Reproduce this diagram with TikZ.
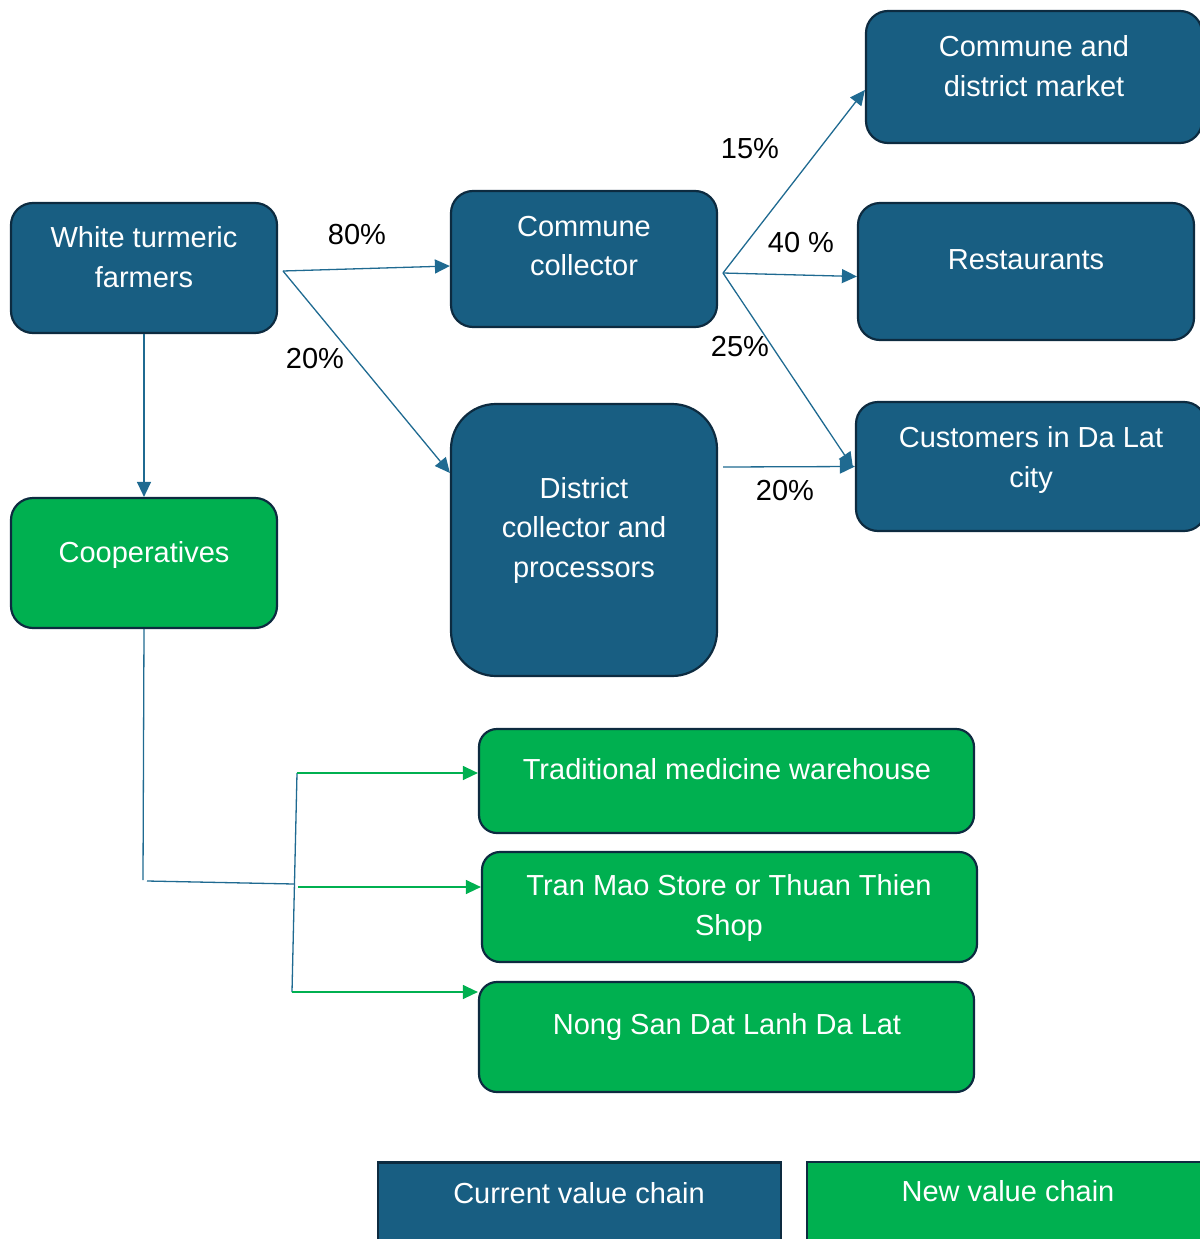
\documentclass[tikz,border=0pt]{standalone}
\usepackage{fontspec}
\setmainfont{Liberation Sans}
\usetikzlibrary{arrows.meta}

\definecolor{chainblue}{HTML}{185E82}
\definecolor{chaingreen}{HTML}{00B050}
\definecolor{edgenavy}{HTML}{0D2B40}
\definecolor{linkblue}{HTML}{1F6A91}

\tikzset{
  box/.style={draw=edgenavy, line width=2.2pt, rounded corners=22pt, inner sep=0pt},
  bluebox/.style={box, fill=chainblue},
  greenbox/.style={box, fill=chaingreen},
  legendbox/.style={box, rounded corners=0pt},
  txt/.style={text=white, align=center, inner sep=0pt, font=\fontsize{29}{39.5}\selectfont},
  pct/.style={text=black, inner sep=0pt, font=\fontsize{29}{35}\selectfont},
  link/.style={draw=linkblue, line width=1.3pt},
  flow/.style={link, -{Triangle[length=15pt,width=14pt]}},
  gflow/.style={draw=chaingreen, line width=1.3pt, -{Triangle[length=15pt,width=14pt]}},
}

\begin{document}
\begin{tikzpicture}[x=1pt,y=-1pt]
\useasboundingbox (0,0) rectangle (1199,1239);

% ---- boxes ----
\node[bluebox, minimum width=266pt, minimum height=130pt] (farm) at (144,268) {};
\node[greenbox, minimum width=266pt, minimum height=130pt] (coop) at (144,563) {};
\node[bluebox, minimum width=266pt, minimum height=136pt] (coll) at (584,259) {};
\node[bluebox, rounded corners=45pt, minimum width=266pt, minimum height=272pt] (dist) at (584,540) {};
\node[bluebox, minimum width=336pt, minimum height=132pt] (market) at (1034,77) {};
\node[bluebox, minimum width=336pt, minimum height=137pt] (rest) at (1026,271.5) {};
\node[bluebox, minimum width=350pt, minimum height=129pt] (cust) at (1031,466.5) {};
\node[greenbox, rounded corners=18pt, minimum width=495pt, minimum height=104pt] (tmw) at (726.5,781) {};
\node[greenbox, rounded corners=18pt, minimum width=495pt, minimum height=110pt] (tran) at (729.5,907) {};
\node[greenbox, rounded corners=18pt, minimum width=495pt, minimum height=110pt] (nong) at (726.5,1037) {};
\node[legendbox, fill=chainblue, minimum width=403pt, minimum height=87pt] (legcur) at (579.5,1206) {};
\node[legendbox, fill=chaingreen, minimum width=402pt, minimum height=88pt] (legnew) at (1008,1206) {};

% ---- box texts ----
\node[txt] (farmT) at (144,257) {White turmeric\\farmers};
\node[txt] (coopT) at (144,555) {Cooperatives};
\node[txt] (collT) at (584,246) {Commune\\collector};
\node[txt] (distT) at (584,530) {District\\collector and\\processors};
\node[txt] (marketT) at (1034,66) {Commune and\\district market};
\node[txt] (restT) at (1026,260) {Restaurants};
\node[txt] (custT) at (1031,460) {Customers in Da Lat\\city};
\node[txt] (tmwT) at (727,769) {Traditional medicine warehouse};
\node[txt] (tranT) at (729,908) {Tran Mao Store or Thuan Thien\\Shop};
\node[txt] (nongT) at (727,1027) {Nong San Dat Lanh Da Lat};
\node[txt] (curT) at (579,1193) {Current value chain};
\node[txt] (newT) at (1008,1191) {New value chain};

% ---- share labels ----
\node[pct] (p80) at (357,235) {80\%};
\node[pct] (p20a) at (315,359) {20\%};
\node[pct] (p15) at (750,149) {15\%};
\node[pct] (p40) at (801,243) {40 \%};
\node[pct] (p25) at (740,347) {25\%};
\node[pct] (p20b) at (785,491) {20\%};

% ---- current chain links ----
\coordinate (fork1) at (283,271);
\coordinate (fork2) at (723,273);
\coordinate (dout) at (723,467);
\draw[flow] (fork1) -- ([yshift=-7pt]coll.west);
\draw[flow] (fork1) -- ([yshift=67pt]dist.west);
\draw[flow] (fork2) -- ([yshift=-13pt]market.west);
\draw[flow] (fork2) -- ([yshift=-5pt]rest.west);
\draw[flow] (fork2) -- ([xshift=-2pt,yshift=-1pt]cust.west);
\draw[flow] (dout) -- (cust.west);
\draw[flow] (farm.south) -- (coop.north);

% ---- new chain links ----
\coordinate (b1) at (143,880);
\coordinate (b2) at (147,881);
\coordinate (b3) at (294,884);
\coordinate (btop) at (297,773);
\coordinate (bmid) at (298,887);
\coordinate (bbot) at (292,992);
\draw[link] (coop.south) -- (b1);
\draw[link] (b2) -- (b3);
\draw[link] (btop) -- (bbot);
\draw[gflow] (btop) -- ([yshift=8pt]tmw.west);
\draw[gflow] (bmid) -- ([yshift=20pt]tran.west);
\draw[gflow] (bbot) -- ([yshift=45pt]nong.west);
\end{tikzpicture}
\end{document}
